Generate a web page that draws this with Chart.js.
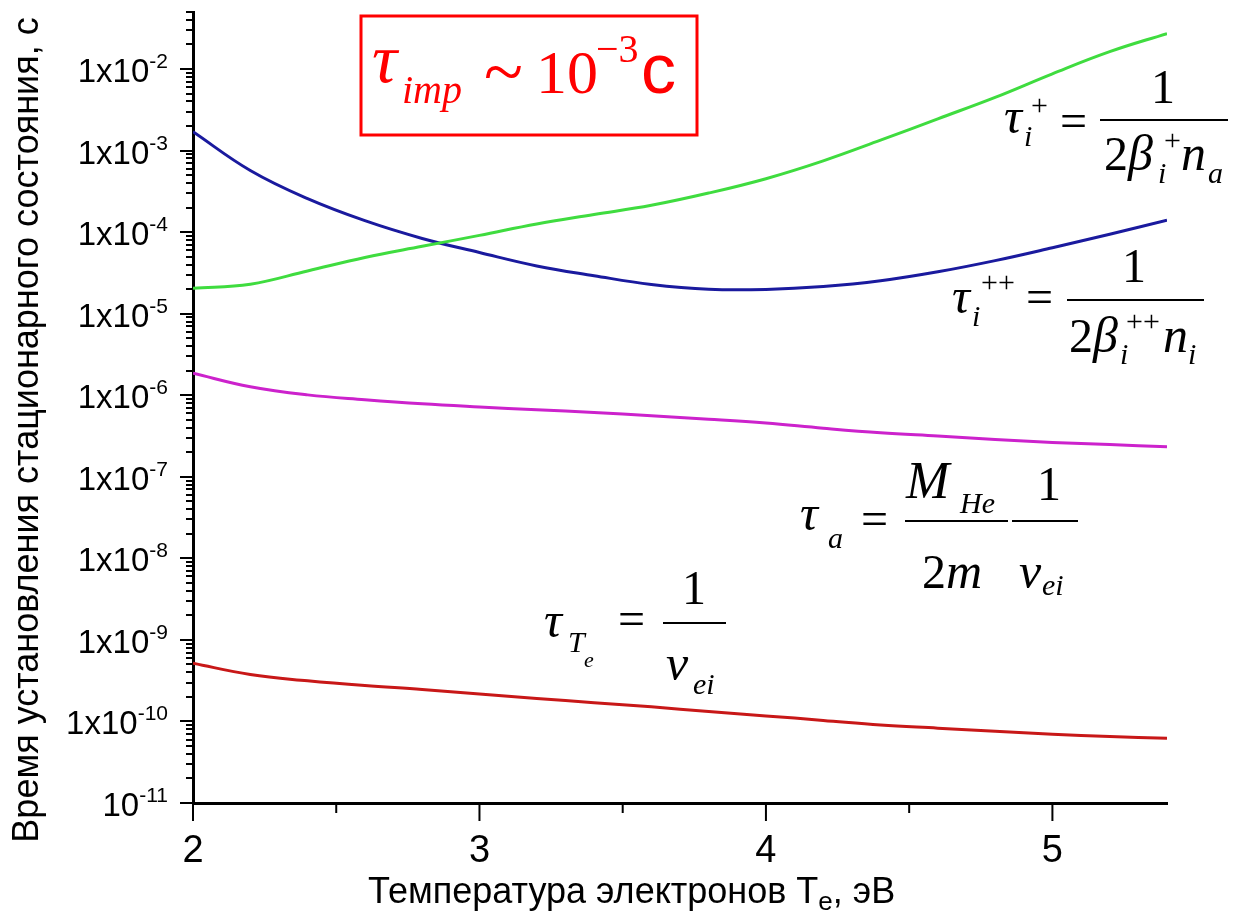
<!DOCTYPE html>
<html><head><meta charset="utf-8">
<script src="https://cdn.jsdelivr.net/npm/chart.js@4.4.1/dist/chart.umd.min.js"></script>
<style>html,body{margin:0;padding:0;background:#fff;}#wrap{width:1240px;height:917px;}</style>
</head><body><div id="wrap"><canvas id="c" width="1240" height="917"></canvas></div>
<script>
// ---- data ----
const temperatureEV = [2.0,2.2,2.4,2.6,2.8,3.0,3.2,3.4,3.6,3.8,4.0,4.2,4.4,4.6,4.8,5.0,5.2,5.4];
const tauIonPlus = [2.05e-5,2.3e-5,3.34e-5,4.89e-5,6.70e-5,9.12e-5,1.26e-4,1.64e-4,2.13e-4,3.01e-4,4.52e-4,7.48e-4,1.34e-3,2.45e-3,4.49e-3,8.73e-3,1.63e-2,2.72e-2];
const tauIonPlusPlus = [1.70e-3,5.69e-4,2.57e-4,1.38e-4,8.36e-5,5.62e-5,3.85e-5,2.92e-5,2.28e-5,1.99e-5,1.98e-5,2.15e-5,2.53e-5,3.26e-5,4.47e-5,6.43e-5,9.42e-5,1.40e-4];
const tauAtom = [1.86e-6,1.27e-6,1.01e-6,8.81e-7,7.85e-7,7.18e-7,6.63e-7,6.14e-7,5.60e-7,5.08e-7,4.55e-7,3.94e-7,3.47e-7,3.16e-7,2.87e-7,2.64e-7,2.48e-7,2.34e-7];
const tauTe = [5.17e-10,3.76e-10,3.15e-10,2.75e-10,2.47e-10,2.17e-10,1.91e-10,1.70e-10,1.51e-10,1.32e-10,1.17e-10,1.03e-10,9.03e-11,8.28e-11,7.59e-11,6.97e-11,6.54e-11,6.22e-11];

const xTickValues = [2,3,4,5];
const xTickLabels = ['2','3','4','5'];
const xMinorTicks = [2.5,3.5,4.5];
const yTickValues = [1e-11,1e-10,1e-9,1e-8,1e-7,1e-6,1e-5,1e-4,1e-3,1e-2];
const yTickBase = ['10','1x10','1x10','1x10','1x10','1x10','1x10','1x10','1x10','1x10'];
const yTickExp = ['-11','-10','-9','-8','-7','-6','-5','-4','-3','-2'];
const xMin = 2, xMax = 5.4, yMin = 1e-11, yMax = 0.05;

const yTitle = 'Время установления стационарного состояния, с';
const xTitleMain = 'Температура электронов T';
const xTitleSub = 'e';
const xTitleTail = ', эВ';

const SANS = '"Liberation Sans", Arial, sans-serif';
const SERIF = '"Liberation Serif", "Times New Roman", serif';

function pts(arr){ return temperatureEV.map((t,i)=>({x:t,y:arr[i]})); }

function T(ctx, s, x, y, font, color, align){
  ctx.font = font; ctx.fillStyle = color || '#000';
  ctx.textAlign = align || 'left'; ctx.textBaseline = 'alphabetic';
  ctx.fillText(s, x, y);
  return ctx.measureText(s).width;
}
function bar(ctx, x1, x2, y, color){
  ctx.beginPath(); ctx.strokeStyle = color || '#000'; ctx.lineWidth = 2;
  ctx.moveTo(x1, y); ctx.lineTo(x2, y); ctx.stroke();
}

const overlay = {
  id: 'overlay',
  afterDraw(chart){
    const ctx = chart.ctx, xs = chart.scales.x, ys = chart.scales.y;
    const L = chart.chartArea.left, B = chart.chartArea.bottom;
    ctx.save();
    ctx.strokeStyle = '#000'; ctx.lineWidth = 2;
    // y ticks (major + minor)
    for (let e = -11; e <= -2; e++){
      for (let m = 1; m <= 9; m++){
        const v = m * Math.pow(10, e);
        if (v > yMax * 1.0001) break;
        const y = Math.round(ys.getPixelForValue(v));
        const len = m === 1 ? 13 : 7;
        ctx.beginPath(); ctx.moveTo(L - len, y); ctx.lineTo(L, y); ctx.stroke();
      }
    }
    // x ticks
    xTickValues.forEach(v => { const x = xs.getPixelForValue(v); ctx.beginPath(); ctx.moveTo(x, B); ctx.lineTo(x, B + 18); ctx.stroke(); });
    xMinorTicks.forEach(v => { const x = xs.getPixelForValue(v); ctx.beginPath(); ctx.moveTo(x, B); ctx.lineTo(x, B + 10); ctx.stroke(); });
    // y tick labels
    yTickValues.forEach((v, i) => {
      const y = ys.getPixelForValue(v);
      ctx.font = '21px ' + SANS; const ws = ctx.measureText(yTickExp[i]).width;
      ctx.font = '33px ' + SANS; const wm = ctx.measureText(yTickBase[i]).width;
      const right = 168;
      T(ctx, yTickBase[i], right - ws - wm, y + 13, '33px ' + SANS, '#000');
      T(ctx, yTickExp[i], right - ws, y - 1, '21px ' + SANS, '#000');
    });
    // x tick labels
    xTickValues.forEach((v, i) => { T(ctx, xTickLabels[i], xs.getPixelForValue(v), 862, '38px ' + SANS, '#000', 'center'); });
    // x title
    let x = 368;
    x += T(ctx, xTitleMain, x, 903, '36px ' + SANS, '#000');
    x += T(ctx, xTitleSub, x, 910, '26px ' + SANS, '#000');
    T(ctx, xTitleTail, x, 903, '36px ' + SANS, '#000');
    // y title
    ctx.save(); ctx.translate(38, 430); ctx.rotate(-Math.PI/2);
    T(ctx, yTitle, 0, 0, '36px ' + SANS, '#000', 'center');
    ctx.restore();

    // ---- boxed annotation ----
    const red = '#ff0000';
    ctx.strokeStyle = red; ctx.lineWidth = 3;
    ctx.strokeRect(361, 16, 336, 119);
    T(ctx, 'τ', 372, 82, 'italic 70px ' + SERIF, red);
    T(ctx, 'imp', 402, 103, 'italic 40px ' + SERIF, red);
    T(ctx, '~', 484, 96, '72px ' + SERIF, red);
    const w10 = T(ctx, '10', 536, 93, '62px ' + SERIF, red);
    T(ctx, '−3', 536 + w10 - 2, 62, '40px ' + SERIF, red);
    T(ctx, 'с', 641, 93, '70px ' + SANS, red);

    const big = 'italic 50px ' + SERIF, up = '48px ' + SERIF, sm = 'italic 30px ' + SERIF, smu = '30px ' + SERIF;
    // tau_i^+
    T(ctx, 'τ', 1004, 133, big); T(ctx, 'i', 1024, 146, sm); T(ctx, '+', 1031, 115, smu);
    T(ctx, '=', 1060, 137, up);
    bar(ctx, 1100, 1228, 120);
    T(ctx, '1', 1163, 103, up, '#000', 'center');
    T(ctx, '2', 1104, 170, up); T(ctx, 'β', 1128, 170, big); T(ctx, 'i', 1158, 183, sm); T(ctx, '+', 1164, 150, smu);
    T(ctx, 'n', 1181, 170, big); T(ctx, 'a', 1208, 183, sm);
    // tau_i^++
    T(ctx, 'τ', 952, 313, big); T(ctx, 'i', 972, 326, sm); T(ctx, '++', 981, 292, smu);
    T(ctx, '=', 1026, 313, up);
    bar(ctx, 1067, 1204, 300);
    T(ctx, '1', 1134, 282, up, '#000', 'center');
    T(ctx, '2', 1069, 352, up); T(ctx, 'β', 1093, 352, big); T(ctx, 'i', 1120, 364, sm); T(ctx, '++', 1126, 331, smu);
    T(ctx, 'n', 1163, 352, big); T(ctx, 'i', 1188, 364, sm);
    // tau_a
    T(ctx, 'τ', 800, 530, big); T(ctx, 'a', 828, 548, sm);
    T(ctx, '=', 861, 535, up);
    bar(ctx, 905, 1008, 521);
    T(ctx, 'M', 906, 498, 'italic 52px ' + SERIF); T(ctx, 'He', 960, 513, sm);
    let w2 = T(ctx, '2', 922, 588, up); T(ctx, 'm', 922 + w2, 588, big);
    bar(ctx, 1012, 1078, 521);
    T(ctx, '1', 1049, 500, up, '#000', 'center');
    T(ctx, 'ν', 1019, 588, big); T(ctx, 'ei', 1042, 595, sm);
    // tau_Te
    T(ctx, 'τ', 544, 637, big); T(ctx, 'T', 568, 652, sm); T(ctx, 'e', 584, 667, 'italic 22px ' + SERIF);
    T(ctx, '=', 618, 635, up);
    bar(ctx, 663, 726, 623);
    T(ctx, '1', 694, 604, up, '#000', 'center');
    T(ctx, 'ν', 666, 680, big); T(ctx, 'ei', 693, 694, sm);
    ctx.restore();
  }
};

const lineDs = (data, color) => ({ data: pts(data), borderColor: color, borderWidth: 3, pointRadius: 0, fill: false, tension: 0.4 });

new Chart(document.getElementById('c'), {
  type: 'line',
  data: { datasets: [
    lineDs(tauIonPlus, '#3fdc3f'),
    lineDs(tauIonPlusPlus, '#1a1a9e'),
    lineDs(tauAtom, '#cc22cc'),
    lineDs(tauTe, '#c81818')
  ]},
  options: {
    responsive: false, animation: false, devicePixelRatio: 1,
    layout: { padding: { top: 12, right: 73, left: 0, bottom: 0 } },
    plugins: { legend: { display: false }, tooltip: { enabled: false } },
    scales: {
      x: { type: 'linear', min: xMin, max: xMax, grid: { display: false }, ticks: { display: false },
           border: { display: true, color: '#000', width: 3 }, afterFit(s){ s.height = 114; } },
      y: { type: 'logarithmic', min: yMin, max: yMax, grid: { display: false }, ticks: { display: false },
           border: { display: true, color: '#000', width: 3 }, afterFit(s){ s.width = 193; } }
    }
  },
  plugins: [overlay]
});
</script></body></html>
